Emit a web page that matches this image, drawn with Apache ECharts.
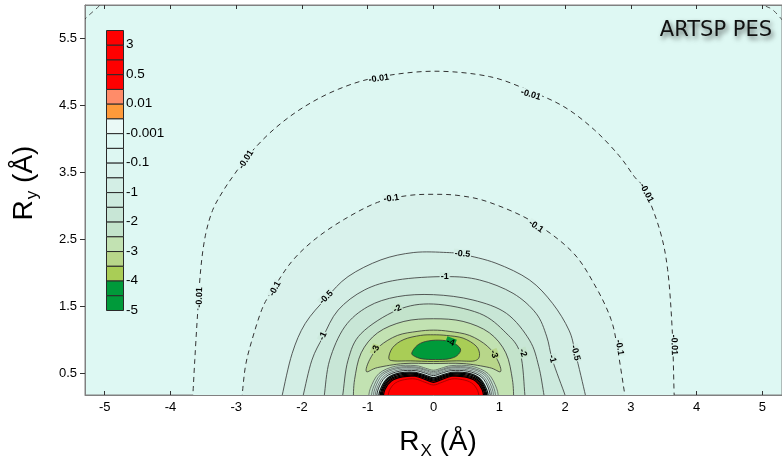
<!DOCTYPE html>
<html><head><meta charset="utf-8">
<script src="https://cdn.jsdelivr.net/npm/echarts@6/dist/echarts.min.js"></script>
<style>html,body{margin:0;padding:0;background:#fff}#c{width:782px;height:463px}</style>
</head><body><div id="c"></div><script>
// contour levels (colour bar boundaries, top to bottom) and the band colours between them
const levels = [5, 3, 1, 0.5, 0.1, 0.01, 0.001, -0.001, -0.01, -0.1, -0.5, -1, -1.5, -2, -2.5, -3, -3.5, -4, -4.5, -5];
const bandColors = ['#ff0000','#ff0000','#ff0000','#ff0000','#ff8c69','#ff9a3a','#eaf9f6','#def8f3','#ddf7f2',
  '#d9f2ec','#d3eee5','#cdeade','#c8e6d6','#c3e3cb','#c2e2b2','#b8d68a','#a9cd56','#009a3a','#009a3a'];
const barLabels = ['3','0.5','0.01','-0.001','-0.1','-1','-2','-3','-4','-5'];
const xTicks = [-5,-4,-3,-2,-1,0,1,2,3,4,5];
const yTicks = [0.5,1.5,2.5,3.5,4.5,5.5];

// outer (attractive well) contours, Rx/Ry in Å
const cM0001L = [[-5.6,5.45],[-5.30,5.79],[-5.07,6.0],[-4.8,6.3]];
const cM0001R = [[4.8,6.3],[5.02,6.01],[5.18,5.91],[5.5,5.55]];
const cM001 = [[-3.67,0.1],[-3.66,0.17],[-3.63,0.70],[-3.59,1.35],[-3.54,2.05],[-3.47,2.55],[-3.36,2.93],[-3.20,3.22],[-3.02,3.48],[-2.80,3.77],[-2.43,4.14],[-1.98,4.47],[-1.45,4.74],[-0.85,4.92],[0,5.01],[0.85,4.93],[1.48,4.71],[2.00,4.47],[2.45,4.13],[2.82,3.75],[3.05,3.44],[3.21,3.24],[3.44,2.64],[3.56,2.05],[3.63,1.15],[3.66,0.17],[3.67,0.1]];
const cM01 = [[-2.92,0.1],[-2.91,0.17],[-2.86,0.60],[-2.77,0.96],[-2.61,1.45],[-2.46,1.72],[-2.16,2.16],[-1.80,2.50],[-1.35,2.80],[-0.85,3.05],[-0.40,3.15],[0,3.17],[0.40,3.15],[0.85,3.05],[1.51,2.76],[2.11,2.31],[2.46,1.80],[2.70,1.30],[2.80,0.85],[2.91,0.17],[2.92,0.1]];
const cM05 = [[-2.31,0.1],[-2.30,0.17],[-2.15,0.79],[-1.95,1.24],[-1.63,1.62],[-1.30,1.94],[-0.80,2.19],[-0.30,2.30],[0.20,2.30],[0.45,2.27],[0.95,2.14],[1.46,1.89],[1.81,1.54],[2.06,1.14],[2.16,0.79],[2.31,0.17],[2.32,0.1]];
const cM1 = [[-1.99,0.1],[-1.98,0.17],[-1.85,0.69],[-1.68,1.04],[-1.45,1.44],[-1.05,1.74],[-0.55,1.89],[0.18,1.94],[0.70,1.89],[1.21,1.69],[1.56,1.39],[1.72,1.05],[1.81,0.69],[2.00,0.17],[2.01,0.1]];
const cM15 = [[-1.67,0.1],[-1.66,0.17],[-1.58,0.69],[-1.35,1.19],[-1.00,1.49],[-0.55,1.64],[0,1.67],[0.60,1.59],[1.11,1.39],[1.46,0.99],[1.60,0.60],[1.68,0.17],[1.69,0.1]];
const cM2 = [[-1.40,0.1],[-1.38,0.17],[-1.30,0.69],[-1.10,1.09],[-0.55,1.44],[0,1.53],[0.70,1.39],[1.10,1.10],[1.32,0.79],[1.39,0.17],[1.40,0.1]];
const cM25 = [[-1.22,0.1],[-1.20,0.40],[-1.10,0.80],[-0.85,1.10],[-0.45,1.27],[0,1.31],[0.45,1.27],[0.85,1.10],[1.10,0.80],[1.20,0.40],[1.22,0.1]];
// closed loops around the well minimum
const cM3 = [[-1.02,0.52],[-0.97,0.70],[-0.82,0.90],[-0.55,1.06],[-0.25,1.12],[0,1.14],[0.25,1.12],[0.55,1.06],[0.82,0.90],[0.97,0.70],[1.02,0.52],[0.85,0.58],[0.45,0.64],[0,0.64],[-0.45,0.64],[-0.85,0.58]];
const cM35 = [[-0.68,0.72],[-0.62,0.88],[-0.45,1.00],[-0.2,1.06],[0,1.07],[0.2,1.06],[0.45,1.02],[0.65,0.90],[0.70,0.76],[0.62,0.68],[0.35,0.68],[0,0.67],[-0.35,0.68],[-0.60,0.68]];
const cM4 = [[-0.33,0.80],[-0.25,0.91],[-0.12,0.97],[0.08,0.99],[0.28,0.96],[0.41,0.86],[0.36,0.76],[0.23,0.71],[0.03,0.70],[-0.17,0.71],[-0.29,0.75]];
// repulsive core contours (H2 two-lobe shape)
const kM25 = [[-0.99,0.1],[-0.96,0.27],[-0.83,0.49],[-0.58,0.60],[-0.28,0.61],[-0.12,0.57],[0,0.54],[0.12,0.57],[0.28,0.61],[0.58,0.60],[0.83,0.49],[0.96,0.27],[0.99,0.1]];
const kM2 = [[-0.95,0.1],[-0.92,0.27],[-0.80,0.48],[-0.56,0.58],[-0.28,0.59],[-0.12,0.55],[0,0.52],[0.12,0.55],[0.28,0.59],[0.56,0.58],[0.80,0.48],[0.92,0.27],[0.95,0.1]];
const kM15 = [[-0.92,0.1],[-0.89,0.27],[-0.775,0.47],[-0.545,0.565],[-0.28,0.575],[-0.12,0.535],[0,0.50],[0.12,0.535],[0.28,0.575],[0.545,0.565],[0.775,0.47],[0.89,0.27],[0.92,0.1]];
const kM1 = [[-0.895,0.1],[-0.865,0.26],[-0.75,0.455],[-0.53,0.545],[-0.28,0.555],[-0.12,0.515],[0,0.48],[0.12,0.515],[0.28,0.555],[0.53,0.545],[0.75,0.455],[0.865,0.26],[0.895,0.1]];
const kM05 = [[-0.87,0.1],[-0.84,0.26],[-0.73,0.44],[-0.52,0.525],[-0.28,0.535],[-0.12,0.495],[0,0.46],[0.12,0.495],[0.28,0.535],[0.52,0.525],[0.73,0.44],[0.84,0.26],[0.87,0.1]];
const kM01 = [[-0.84,0.1],[-0.81,0.25],[-0.70,0.42],[-0.51,0.50],[-0.28,0.51],[-0.12,0.465],[0,0.43],[0.12,0.465],[0.28,0.51],[0.51,0.50],[0.70,0.42],[0.81,0.25],[0.84,0.1]];
const kM001 = [[-0.82,0.1],[-0.79,0.25],[-0.69,0.41],[-0.50,0.485],[-0.28,0.495],[-0.12,0.45],[0,0.41],[0.12,0.45],[0.28,0.495],[0.50,0.485],[0.69,0.41],[0.79,0.25],[0.82,0.1]];
const kP001 = [[-0.805,0.1],[-0.775,0.25],[-0.67,0.40],[-0.49,0.47],[-0.28,0.48],[-0.12,0.435],[0,0.395],[0.12,0.435],[0.28,0.48],[0.49,0.47],[0.67,0.40],[0.775,0.25],[0.805,0.1]];
const kP01 = [[-0.79,0.1],[-0.76,0.25],[-0.66,0.39],[-0.48,0.455],[-0.28,0.465],[-0.12,0.42],[0,0.38],[0.12,0.42],[0.28,0.465],[0.48,0.455],[0.66,0.39],[0.76,0.25],[0.79,0.1]];
const kP05 = [[-0.77,0.1],[-0.74,0.25],[-0.64,0.38],[-0.47,0.44],[-0.28,0.45],[-0.12,0.40],[0,0.36],[0.12,0.40],[0.28,0.45],[0.47,0.44],[0.64,0.38],[0.74,0.25],[0.77,0.1]];
const kP3 = [[-0.70,0.1],[-0.67,0.24],[-0.58,0.35],[-0.44,0.40],[-0.28,0.41],[-0.13,0.36],[0,0.32],[0.13,0.36],[0.28,0.41],[0.44,0.40],[0.58,0.35],[0.67,0.24],[0.70,0.1]];

// inline contour labels: [Rx, Ry, angle in degrees, text]
const contourLabels = [
  [-3.56,1.63,88,'-0.01'],[-2.85,3.69,58,'-0.01'],[-0.83,4.90,8,'-0.01'],[1.48,4.66,-17,'-0.01'],[3.24,3.19,-62,'-0.01'],[3.66,0.92,-88,'-0.01'],
  [-2.41,1.76,62,'-0.1'],[-0.64,3.11,8,'-0.1'],[1.56,2.69,-35,'-0.1'],[2.83,0.88,-80,'-0.1'],
  [-1.63,1.63,45,'-0.5'],[0.44,2.28,-5,'-0.5'],[2.16,0.80,-75,'-0.5'],
  [-1.68,1.05,65,'-1'],[0.17,1.94,0,'-1'],[1.81,0.71,-75,'-1'],
  [-0.55,1.46,25,'-2'],[1.36,0.80,-70,'-2'],
  [-0.88,0.85,70,'-3'],[0.92,0.78,-70,'-3'],
  [0.26,0.96,-20,'-4']
];

// drawing order: outer wells first, then the core, then the inner loops
const dark = '#333333', grey = '#4a4a4a';
const drawList = [
  {pts:cM001, level:-0.01, side:'below', open:true, dash:true, stroke:dark, lw:1},
  {pts:cM01,  level:-0.1,  side:'below', open:true, dash:true, stroke:dark, lw:1},
  {pts:cM05,  level:-0.5,  side:'below', open:true, stroke:dark, lw:0.8},
  {pts:cM1,   level:-1,    side:'below', open:true, stroke:dark, lw:0.8},
  {pts:cM15,  level:-1.5,  side:'below', open:true, stroke:dark, lw:0.8},
  {pts:cM2,   level:-2,    side:'below', open:true, stroke:dark, lw:0.8},
  {pts:cM25,  level:-2.5,  side:'below', open:true, stroke:dark, lw:0.8},
  {pts:kM25,  level:-2.5,  side:'above', open:true, stroke:grey, lw:0.7},
  {pts:kM2,   level:-2,    side:'above', open:true, stroke:grey, lw:0.7},
  {pts:kM15,  level:-1.5,  side:'above', open:true, stroke:grey, lw:0.7},
  {pts:kM1,   level:-1,    side:'above', open:true, stroke:grey, lw:0.7},
  {pts:kM05,  level:-0.5,  side:'above', open:true, stroke:'#222', lw:0.9},
  {pts:kM01,  level:-0.1,  side:'above', open:true, stroke:'#111', lw:1.2},
  {pts:kM001, level:-0.01, side:'above', open:true, stroke:'#000', lw:1.3},
  {pts:kP001, level:0.01,  side:'above', open:true, stroke:'#000', lw:1.3},
  {pts:kP01,  level:0.1,   side:'above', open:true, stroke:'#000', lw:1.3},
  {pts:kP05,  level:0.5,   side:'above', open:true, stroke:'#000', lw:1.2},
  {pts:kP3,   level:3,     side:'above', open:true, stroke:'#9a0000', lw:0.8},
  {pts:cM3,   level:-3,    side:'below', open:false, stroke:dark, lw:0.8},
  {pts:cM35,  level:-3.5,  side:'below', open:false, stroke:dark, lw:0.8},
  {pts:cM4,   level:-4,    side:'below', open:false, stroke:dark, lw:0.8},
  {pts:cM0001L, level:-0.001, side:'none', open:true, dash:true, stroke:dark, lw:0.8},
  {pts:cM0001R, level:-0.001, side:'none', open:true, dash:true, stroke:dark, lw:0.8}
];

function fillOf(c) {
  const i = levels.indexOf(c.level);
  if (c.side === 'below') return bandColors[i];
  if (c.side === 'above') return bandColors[i - 1];
  return null;
}

// smooth Catmull-Rom path through already-projected pixel points
function curvePath(P, closed) {
  const n = P.length;
  const get = i => closed ? P[(i + n) % n] : P[Math.max(0, Math.min(n - 1, i))];
  const f = v => v.toFixed(2);
  let d = 'M' + f(P[0][0]) + ' ' + f(P[0][1]);
  const segs = closed ? n : n - 1;
  for (let i = 0; i < segs; i++) {
    const p0 = get(i - 1), p1 = get(i), p2 = get(i + 1), p3 = get(i + 2);
    const c1 = [p1[0] + (p2[0] - p0[0]) / 6, p1[1] + (p2[1] - p0[1]) / 6];
    const c2 = [p2[0] - (p3[0] - p1[0]) / 6, p2[1] - (p3[1] - p1[1]) / 6];
    d += ' C' + f(c1[0]) + ' ' + f(c1[1]) + ' ' + f(c2[0]) + ' ' + f(c2[1]) + ' ' + f(p2[0]) + ' ' + f(p2[1]);
  }
  if (closed) d += ' Z';
  return d;
}

const chart = echarts.init(document.getElementById('c'));
const font = 'Liberation Sans, Arial, sans-serif';

const graphics = [];
const segH = 280 / 19;
for (let i = 0; i < bandColors.length; i++) {
  graphics.push({type:'rect', left:106, top:30 + i*segH, z:100,
    shape:{x:0, y:0, width:17, height:segH},
    style:{fill:bandColors[i], stroke:'#2a2a2a', lineWidth:1}});
}
barLabels.forEach((t, k) => {
  graphics.push({type:'text', x:126, y:30 + (2*k+1)*segH, z:100,
    style:{text:t, fontSize:13.5, fontFamily:font, fill:'#000', verticalAlign:'middle', align:'left'}});
});
graphics.push({type:'text', x:772, y:31, z:100,
  style:{text:'ARTSP PES', fontSize:21, fontFamily:'DejaVu Sans, sans-serif', fill:'#111', align:'right', verticalAlign:'middle',
    textShadowColor:'rgba(0,0,0,0.6)', textShadowBlur:5, textShadowOffsetX:2, textShadowOffsetY:3}});
graphics.push({type:'text', x:438, y:442, z:100,
  style:{text:'{r|R}{s|X}{r| (Å)}', fontFamily:font, fill:'#000', align:'center', verticalAlign:'middle',
    rich:{r:{fontSize:28, fontFamily:font, lineHeight:36}, s:{fontSize:17, fontFamily:font, lineHeight:17, padding:[19,0,0,1]}}}});
graphics.push({type:'text', x:24, y:183, rotation:Math.PI/2, z:100,
  style:{text:'{r|R}{s|y}{r| (Å)}', fontFamily:font, fill:'#000', align:'center', verticalAlign:'middle',
    rich:{r:{fontSize:28, fontFamily:font, lineHeight:36}, s:{fontSize:17, fontFamily:font, lineHeight:17, padding:[17,0,0,1]}}}});

const option = {
  animation:false,
  backgroundColor:'#ffffff',
  grid:{left:85, right:-7, top:5, bottom:68, show:true, backgroundColor:bandColors[7], borderColor:'#808080', borderWidth:1},
  xAxis:[{
    type:'value', min:-5.3, max:5.3, position:'bottom',
    axisLine:{show:true, onZero:false, lineStyle:{color:'#808080', width:1}},
    axisTick:{show:true, inside:true, length:4, customValues:xTicks, lineStyle:{color:'#333'}},
    axisLabel:{show:true, customValues:xTicks, fontSize:13, fontFamily:font, color:'#000', margin:6},
    splitLine:{show:false}
  },{
    type:'value', min:-5.3, max:5.3, position:'top',
    axisLine:{show:true, onZero:false, lineStyle:{color:'#808080', width:1}},
    axisTick:{show:true, inside:true, length:4, customValues:xTicks, lineStyle:{color:'#333'}},
    axisLabel:{show:false}, splitLine:{show:false}
  }],
  yAxis:{
    type:'value', min:0.17, max:6.0,
    axisLine:{show:true, onZero:false, lineStyle:{color:'#808080', width:1}},
    axisTick:{show:true, inside:false, length:5, customValues:yTicks, lineStyle:{color:'#333'}},
    axisLabel:{show:true, customValues:yTicks, fontSize:13, fontFamily:font, color:'#000', margin:8,
      formatter:v => v.toFixed(1)},
    splitLine:{show:false}
  },
  graphic:graphics,
  series:[{
    type:'custom', clip:true, z:2,
    data:drawList.map((c, i) => i),
    renderItem:(params, api) => {
      const c = drawList[params.dataIndex];
      const pts = c.pts.map(p => api.coord(p));
      const children = [];
      const fill = fillOf(c);
      if (fill) {
        let d = curvePath(pts, !c.open);
        if (c.open) {
          const a = api.coord([c.pts[0][0], -1]);
          const b = api.coord([c.pts[c.pts.length - 1][0], -1]);
          d += ' L' + b[0] + ' ' + b[1] + ' L' + a[0] + ' ' + a[1] + ' Z';
        }
        children.push({type:'path', shape:{pathData:d}, style:{fill:fill, stroke:null}});
      }
      children.push({type:'path', shape:{pathData:curvePath(pts, !c.open)},
        style:{fill:null, stroke:c.stroke, lineWidth:c.lw, lineDash:c.dash ? [5,4] : null}});
      return {type:'group', children};
    }
  },{
    type:'custom', clip:true, z:3,
    data:contourLabels,
    renderItem:(params, api) => {
      const d = contourLabels[params.dataIndex];
      const p = api.coord([d[0], d[1]]);
      const bg = bandColors[levels.indexOf(parseFloat(d[3]))];
      return {type:'text', x:p[0], y:p[1], rotation:d[2]*Math.PI/180,
        style:{text:d[3], fontSize:9, fontWeight:'bold', fontFamily:font, fill:'#000', align:'center', verticalAlign:'middle',
          backgroundColor:bg, padding:[0,1]}};
    }
  }]
};
chart.setOption(option);
</script></body></html>
